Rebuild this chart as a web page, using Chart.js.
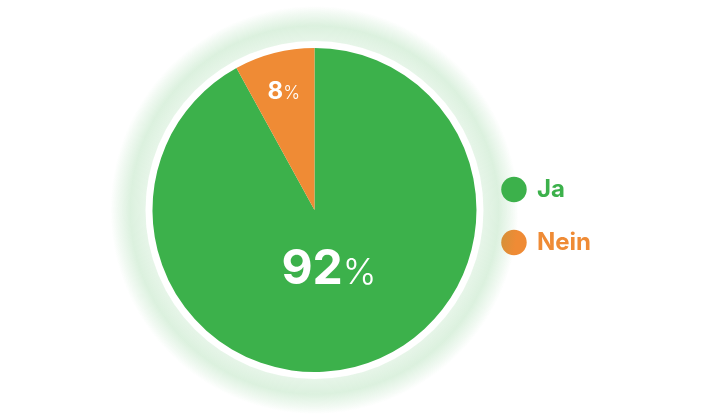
<!DOCTYPE html>
<html>
<head>
<meta charset="utf-8">
<script src="https://cdn.jsdelivr.net/npm/chart.js@4.4.1/dist/chart.umd.min.js"></script>
<style>
  html, body { margin: 0; background: #fff; }
  #wrap { width: 720px; height: 420px; }
</style>
</head>
<body>
<div id="wrap"><canvas id="pie-chart"></canvas></div>
<script>
const labels = ['Ja', 'Nein'];
const values = [92, 8];
const colors = ['#3cb14b', '#ef8b35'];
// where the % text sits along each slice's middle ray (fraction of radius) and its font sizes
const labelRadius = [0.36, 0.76];
const labelSizes = [[48, 36], [24, 18]];

const FONT = 'Inter, Lato, sans-serif';

// white ring + soft green glow behind the pie
const glowPlugin = {
  id: 'glow',
  beforeDatasetsDraw(chart) {
    const arc = chart.getDatasetMeta(0).data[0];
    if (!arc) return;
    const { x, y, outerRadius } = arc.getProps(['x', 'y', 'outerRadius'], true);
    const ctx = chart.ctx;
    ctx.save();
    const g = ctx.createRadialGradient(x, y, outerRadius + 6, x, y, outerRadius + 42);
    g.addColorStop(0, 'rgba(60,177,75,0.12)');
    g.addColorStop(0.45, 'rgba(60,177,75,0.18)');
    g.addColorStop(0.8, 'rgba(60,177,75,0.07)');
    g.addColorStop(1, 'rgba(60,177,75,0)');
    ctx.fillStyle = g;
    ctx.beginPath();
    ctx.arc(x, y, outerRadius + 42, 0, Math.PI * 2);
    ctx.fill();
    ctx.fillStyle = '#fff';
    ctx.beginPath();
    ctx.arc(x, y, outerRadius + 7, 0, Math.PI * 2);
    ctx.fill();
    ctx.restore();
  }
};

// percentage labels inside slices
const percentPlugin = {
  id: 'percent',
  afterDatasetsDraw(chart) {
    const ctx = chart.ctx;
    chart.getDatasetMeta(0).data.forEach((arc, i) => {
      const { x, y, startAngle, endAngle, outerRadius } =
        arc.getProps(['x', 'y', 'startAngle', 'endAngle', 'outerRadius'], true);
      const mid = (startAngle + endAngle) / 2;
      const r = outerRadius * labelRadius[i];
      const px = x + Math.cos(mid) * r;
      const py = y + Math.sin(mid) * r;
      const [big, small] = labelSizes[i];
      const num = String(values[i]);
      ctx.save();
      ctx.fillStyle = '#fff';
      ctx.textBaseline = 'alphabetic';
      ctx.font = `bold ${big}px ${FONT}`;
      const w1 = ctx.measureText(num).width;
      ctx.font = `300 ${small}px ${FONT}`;
      const w2 = ctx.measureText('%').width;
      const left = px - (w1 + w2) / 2;
      const base = py + big * 0.36;
      ctx.font = `bold ${big}px ${FONT}`;
      ctx.fillText(num, left, base);
      ctx.font = `300 ${small}px ${FONT}`;
      ctx.fillText('%', left + w1, base);
      ctx.restore();
    });
  }
};

new Chart(document.getElementById('pie-chart'), {
  type: 'pie',
  data: {
    labels: labels,
    datasets: [{
      data: values,
      backgroundColor: colors,
      borderWidth: 0
    }]
  },
  options: {
    responsive: true,
    maintainAspectRatio: false,
    animation: false,
    radius: 162,
    layout: { padding: { left: 155, right: 119, top: 0, bottom: 0 } },
    plugins: {
      tooltip: { enabled: false },
      legend: {
        position: 'right',
        title: { display: true, text: '', font: { size: 10 }, padding: 0 },
        labels: {
          usePointStyle: true,
          pointStyle: 'circle',
          boxWidth: 22,
          boxHeight: 18,
          padding: 29,
          font: { family: FONT, size: 24, weight: 'bold' },
          generateLabels(chart) {
            return labels.map((l, i) => ({
              text: l,
              fillStyle: colors[i],
              strokeStyle: colors[i],
              fontColor: colors[i],
              lineWidth: 0,
              pointStyle: 'circle',
              hidden: false,
              index: i
            }));
          }
        }
      }
    }
  },
  plugins: [glowPlugin, percentPlugin]
});
</script>
</body>
</html>
